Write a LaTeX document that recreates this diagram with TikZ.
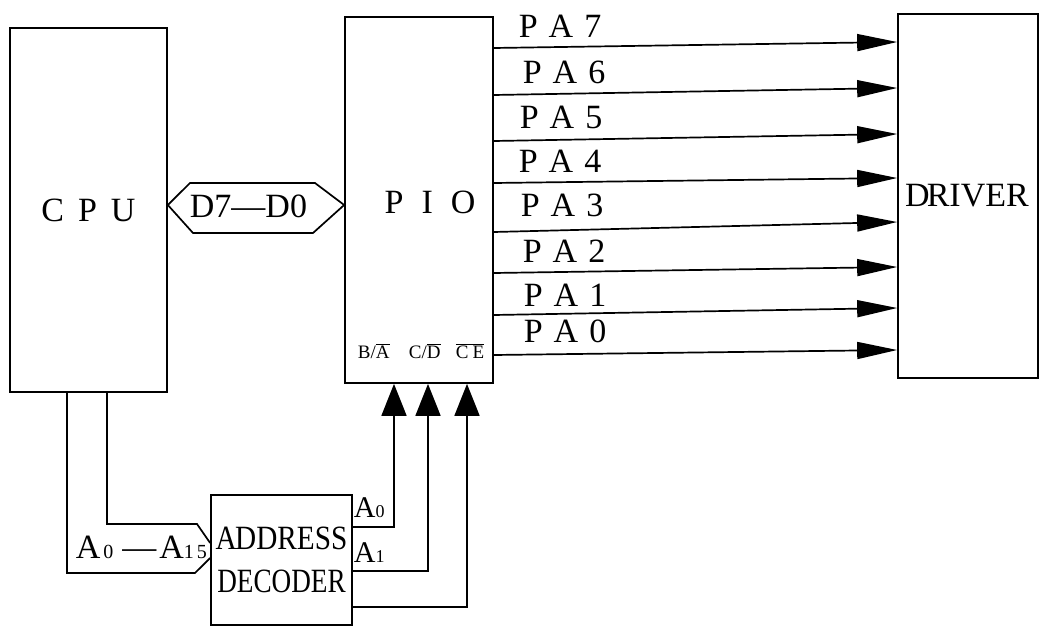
\documentclass[tikz,border=0pt]{standalone}
\usepackage{fontspec}
\setmainfont{Liberation Serif}
\usetikzlibrary{arrows.meta}
\begin{document}
\begin{tikzpicture}[x=1pt,y=-1pt,line width=1.7pt,
  box/.style={draw,line width=1.7pt,inner sep=0pt},
  big/.style={font=\fontsize{34}{36}\selectfont},
  lbl/.style={anchor=base west,inner sep=0pt,font=\fontsize{34}{36}\selectfont},
  small/.style={anchor=base west,inner sep=0pt,font=\fontsize{19}{20}\selectfont},
  paarr/.style={-{Triangle[length=40pt,width=17pt]}},
  uparr/.style={-{Triangle[length=32pt,width=25pt]}}]
\fill[white] (0,0) rectangle (1040,628);
\useasboundingbox (0,0) rectangle (1040,628);
% boxes
\node[box,big,minimum width=157pt,minimum height=364pt] (cpu) at (88.5,210) {C\hspace{14pt}P\hspace{14pt}U};
\node[box,minimum width=148pt,minimum height=366pt] (pio) at (419,200) {};
\node[big,inner sep=0pt] (piolbl) at (430,202) {P\hspace{18pt}I\hspace{18pt}O};
\node[box,big,minimum width=140pt,minimum height=364pt] (drv) at (968,196) {\kern-2pt D\kern-3pt RIVER};
\node[box,minimum width=141pt,minimum height=130pt,align=center,
  font=\fontsize{34}{43}\selectfont] (dec) at (281.5,560)
  {\scalebox{0.86}[1]{A\kern-2pt DDRESS}\\\scalebox{0.8}[1]{DECODER}};
% PIO bottom labels
\node[small] (ba) at (357,358) {B/$\overline{\mbox{A}}$};
\node[small] (cd) at (408,358) {C/$\overline{\mbox{D}}$};
\node[small] (ce) at (455,358) {$\overline{\mbox{C\hspace{4pt}E}}$};
% data bus
\draw (cpu.east |- 0,205) -- (190,183) -- (315,183) -- (pio.west |- 0,205) -- (313,233) -- (193,233) -- cycle;
\node[big,inner sep=0pt] (bus) at (248.5,206) {D7—D0};
% PA lines
\foreach \n/\ly/\lx/\ya/\yb in {7/38/518/48/42, 6/84/522/95/88, 5/129/519/141/134, 4/173/518/183/178, 3/217/520/232/222, 2/262/522/273/267, 1/306/523/315/308, 0/342/523/355/350}{
  \node[lbl] (pa\n) at (\lx,\ly) {P\hspace{11pt}A\hspace{11pt}\n};
  \draw[paarr] (pio.east |- 0,\ya) -- (drv.west |- 0,\yb);
}
% address bus from CPU
\draw (67,0 |- cpu.south) -- (67,573) -- (195,573) -- (dec.west |- 0,558);
\draw (107,0 |- cpu.south) -- (107,524) -- (197,524) -- (dec.west |- 0,543);
\node[lbl] (abus) at (75,558) {A\hspace{3pt}{\fontsize{20}{20}\selectfont 0}\hspace{9pt}—\hspace{3pt}A{\fontsize{20}{20}\selectfont 1\hspace{3pt}5}};
% decoder outputs
\draw[uparr] (dec.east |- 0,527) -| (394,0 |- pio.south);
\draw[uparr] (dec.east |- 0,571) -| (428,0 |- pio.south);
\draw[uparr] (dec.east |- 0,607) -| (467,0 |- pio.south);
\node[anchor=base west,inner sep=0pt,font=\fontsize{30}{32}\selectfont] (a0) at (353,517) {A{\fontsize{18}{18}\selectfont 0}};
\node[anchor=base west,inner sep=0pt,font=\fontsize{30}{32}\selectfont] (a1) at (353,562) {A{\fontsize{18}{18}\selectfont 1}};
\end{tikzpicture}
\end{document}
